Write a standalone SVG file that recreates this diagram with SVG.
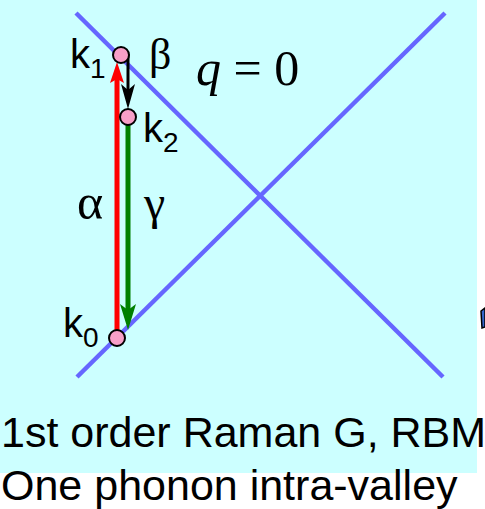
<svg xmlns="http://www.w3.org/2000/svg" width="485" height="509" viewBox="0 0 485 509">
<defs>
<style>
.band{stroke:#6666ff;stroke-width:4.5;stroke-linecap:butt}
.dot{fill:#f79fc8;stroke:#000;stroke-width:2}
.lab{font-family:"Liberation Sans",Arial,sans-serif;fill:#000}
.gr{font-family:"Liberation Serif","DejaVu Serif",serif;fill:#000}
</style>
</defs>
<rect x="0" y="0" width="477" height="473" fill="#ccffff"/>
<g id="bands">
<line class="band" x1="76" y1="13" x2="443" y2="377"/>
<line class="band" x1="445" y1="13" x2="77" y2="377"/>
</g>
<g id="connectors">
<line x1="117" y1="338" x2="117" y2="78" stroke="#ff0000" stroke-width="5"/>
<polygon points="117,62 110,83 117,79 124,83" fill="#ff0000"/>
<line x1="128" y1="117" x2="128" y2="312" stroke="#008000" stroke-width="5"/>
<polygon points="128,330 120,304 128,310 136,304" fill="#008000"/>
<line x1="128" y1="54" x2="128" y2="92" stroke="#000" stroke-width="3"/>
<polygon points="128,109 121,84 128,90 135,84" fill="#000"/>
</g>
<g id="k1">
<circle class="dot" cx="121" cy="55" r="8"/>
<text class="lab" x="70" y="68" font-size="40">k<tspan font-size="28" dy="10">1</tspan></text>
</g>
<g id="k2">
<circle class="dot" cx="128" cy="117" r="8"/>
<text class="lab" x="143" y="142" font-size="40">k<tspan font-size="28" dy="10">2</tspan></text>
</g>
<g id="k0">
<circle class="dot" cx="117" cy="338" r="8"/>
<text class="lab" x="63" y="337" font-size="40">k<tspan font-size="28" dy="10">0</tspan></text>
</g>
<g id="labels">
<text class="gr" x="149" y="69" font-size="44">β</text>
<text class="gr" x="77" y="219" font-size="50">α</text>
<text class="gr" x="144" y="219" font-size="48">γ</text>
<text class="gr" x="196" y="85" font-size="50"><tspan font-style="italic">q</tspan> = 0</text>
</g>
<polygon points="481,311 485,308 485,327 482,328" fill="#3366cc" stroke="#000" stroke-width="1.5"/>
<g id="caption">
<text class="lab" x="1" y="447" font-size="43">1st order Raman G, RBM</text>
<text class="lab" x="1" y="500" font-size="43">One phonon intra-valley</text>
</g>
</svg>
